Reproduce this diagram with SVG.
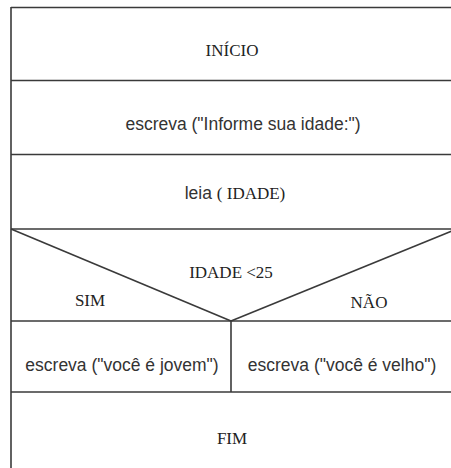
<svg xmlns="http://www.w3.org/2000/svg" width="451" height="468" viewBox="0 0 451 468">
<style>
.ln{stroke:#3a3a3a;stroke-width:1.6;fill:none}
.sans{font-family:"Liberation Sans",Arial,sans-serif;font-size:17.5px;fill:#333}
.serif{font-family:"Liberation Serif","Times New Roman",serif;font-size:17px;fill:#222}
</style>
<rect width="451" height="468" fill="#fff"/>
<g id="frame">
<line class="ln" x1="11" y1="7.5" x2="451" y2="7.5"/>
<line class="ln" x1="11" y1="7" x2="11" y2="468"/>
</g>
<g id="inicio">
<line class="ln" x1="11" y1="80.5" x2="451" y2="80.5"/>
<text class="serif" x="232" y="56" text-anchor="middle">INÍCIO</text>
</g>
<g id="escreva1">
<line class="ln" x1="11" y1="154.5" x2="451" y2="154.5"/>
<text class="sans" x="243" y="130" text-anchor="middle">escreva ("Informe sua idade:")</text>
</g>
<g id="leia">
<line class="ln" x1="11" y1="229" x2="451" y2="229"/>
<text x="235" y="199" text-anchor="middle"><tspan class="sans">leia </tspan><tspan class="serif">( IDADE)</tspan></text>
</g>
<g id="decisao">
<line class="ln" x1="11" y1="229" x2="231" y2="321"/>
<line class="ln" x1="231" y1="321" x2="457" y2="229"/>
<line class="ln" x1="11" y1="321" x2="451" y2="321"/>
<text class="serif" x="231" y="278" text-anchor="middle">IDADE &lt;25</text>
<text class="serif" x="90" y="306" text-anchor="middle">SIM</text>
<text class="serif" x="369" y="308" text-anchor="middle">NÃO</text>
</g>
<g id="sim">
<line class="ln" x1="231" y1="321" x2="231" y2="392"/>
<text class="sans" x="122" y="371" text-anchor="middle">escreva ("você é jovem")</text>
</g>
<g id="nao">
<text class="sans" x="342" y="371" text-anchor="middle">escreva ("você é velho")</text>
</g>
<g id="fim">
<line class="ln" x1="11" y1="392" x2="451" y2="392"/>
<text class="serif" x="232" y="444" text-anchor="middle">FIM</text>
</g>
</svg>
